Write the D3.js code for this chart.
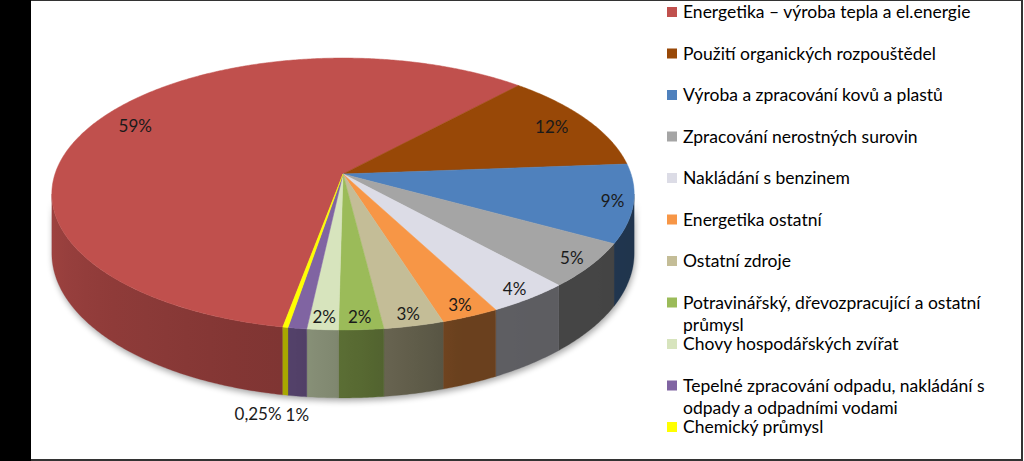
<!DOCTYPE html>
<html>
<head>
<meta charset="utf-8">
<script src="https://cdn.jsdelivr.net/npm/d3@7"></script>
<style>
  html, body { margin: 0; padding: 0; background: #fff; }
  svg { display: block; font-family: Lato, "Noto Sans", sans-serif; }
</style>
</head>
<body>
<svg id="chart" width="1024" height="461"></svg>
<script>
// data (labels are the rounded values shown on the slices)
const categories = [
  "Energetika – výroba tepla a el.energie",
  "Použití organických rozpouštědel",
  "Výroba a zpracování kovů a plastů",
  "Zpracování nerostných surovin",
  "Nakládání s benzinem",
  "Energetika ostatní",
  "Ostatní zdroje",
  "Potravinářský, dřevozpracující a ostatní průmysl",
  "Chovy hospodářských zvířat",
  "Tepelné zpracování odpadu, nakládání s odpady a odpadními vodami",
  "Chemický průmysl"
];
const values = [59, 12, 9.3, 5.3, 4.0, 2.8, 2.9, 2.15, 1.5, 0.9, 0.25];
const valueLabels = ["59%", "12%", "9%", "5%", "4%", "3%", "3%", "2%", "2%", "1%", "0,25%"];

const colors = ["#c0504d", "#984807", "#4f81bd", "#a5a5a5", "#dcdce6", "#f79646",
                "#c4bd97", "#9bbb59", "#d7e4bd", "#8064a2", "#ffff00"];

const svg = d3.select("#chart");
const defs = svg.append("defs");
const deg = Math.PI / 180;

// frame
svg.append("rect").attr("x", 0).attr("y", 0).attr("width", 31).attr("height", 461).attr("fill", "#000");
svg.append("rect").attr("x", 31).attr("y", 0).attr("width", 992).attr("height", 1).attr("fill", "#333");
svg.append("rect").attr("x", 1021).attr("y", 0).attr("width", 2).attr("height", 461).attr("fill", "#333");
svg.append("rect").attr("x", 31).attr("y", 459).attr("width", 992).attr("height", 2).attr("fill", "#333");

// 3d pie projection (perspective tilt)
const cx = 343, cy = 174, A = 288, B = 133, K = 0.147, T = 58;
function proj(theta, r, bottom) {
  const u = r * Math.sin(theta), v = -r * Math.cos(theta);
  const w = 1 - K * v;
  return [cx + A * u / w, cy + B * v / w + (bottom ? T / w : 0)];
}

const startAngle = 190.3 * deg;
const pie = d3.pie().sort(null).startAngle(startAngle).endAngle(startAngle + 2 * Math.PI);
const arcs = pie(values);
const total = d3.sum(values);

const visL = Math.acos(-K), visR = 2 * Math.PI - Math.acos(-K);
const shade = d3.scaleLinear().domain([90, 160, 190, 225, 270]).range([0.4, 0.43, 0.66, 0.74, 0.85]).clamp(true);
function darker(c, f) {
  const r = d3.rgb(c);
  return d3.rgb(r.r * f, r.g * f, r.b * f).formatHex();
}
const line = d3.line();

// shadow under the pie
defs.append("filter").attr("id", "blur").attr("x", "-10%").attr("y", "-10%").attr("width", "120%").attr("height", "130%")
  .append("feGaussianBlur").attr("stdDeviation", 3);
const shadowPts = [];
for (let t = visL; t <= visR; t += deg) shadowPts.push(proj(t, 1, true));
for (let t = visR; t >= visL; t -= deg) shadowPts.push(proj(t, 1, false));
svg.append("path").attr("d", line(shadowPts) + "Z").attr("transform", "translate(1,3)")
  .attr("fill", "#000").attr("opacity", 0.35).attr("filter", "url(#blur)");

// side walls, shaded with a gradient along the rim
const sides = svg.append("g");
let gid = 0;
arcs.forEach((a, i) => {
  [0, 2 * Math.PI].forEach(off => {
    const s = Math.max(a.startAngle, visL + off), e = Math.min(a.endAngle, visR + off);
    if (e <= s) return;
    const n = Math.max(2, Math.ceil((e - s) / (0.5 * deg)));
    const ts = d3.range(n + 1).map(j => s + (e - s) * j / n);
    const top = ts.map(t => proj(t, 1, false));
    const bot = ts.map(t => proj(t, 1, true)).reverse();
    const x1 = top[0][0], x2 = top[top.length - 1][0];
    const id = "side" + (gid++);
    const g = defs.append("linearGradient").attr("id", id).attr("gradientUnits", "userSpaceOnUse")
      .attr("x1", x1).attr("y1", 0).attr("x2", x2).attr("y2", 0);
    d3.range(0, 1.0001, 0.125).forEach(f => {
      const t = s + (e - s) * f;
      const x = proj(t, 1, false)[0];
      const d = ((t / deg) % 360 + 360) % 360;
      g.append("stop").attr("offset", Math.abs(x2 - x1) < 0.01 ? f : (x - x1) / (x2 - x1))
        .attr("stop-color", darker(colors[i], shade(d)));
    });
    sides.append("path").attr("d", line(top.concat(bot)) + "Z")
      .attr("fill", `url(#${id})`).attr("stroke", darker(colors[i], shade(((s + e) / 2 / deg) % 360)))
      .attr("stroke-width", 0.3);
  });
});

// top faces
svg.append("g").selectAll("path").data(arcs).join("path")
  .attr("d", a => {
    const pts = [proj(0, 0, false)];
    const n = Math.max(2, Math.ceil((a.endAngle - a.startAngle) / (0.5 * deg)));
    for (let j = 0; j <= n; j++) pts.push(proj(a.startAngle + (a.endAngle - a.startAngle) * j / n, 1, false));
    return line(pts) + "Z";
  })
  .attr("fill", (a, i) => colors[i])
  .attr("stroke", (a, i) => colors[i]).attr("stroke-width", 0.5);

// slice labels
const labelG = svg.append("g").attr("font-size", 17).attr("fill", "#1a1a1a");
const outside = [];
arcs.forEach((a, i) => {
  const mid = (a.startAngle + a.endAngle) / 2;
  const share = a.value / total;
  if (share > 0.012) {
    const p = proj(mid, share > 0.1 ? 0.85 : 0.93, false);
    labelG.append("text").attr("x", p[0]).attr("y", p[1]).attr("dy", "0.35em")
      .attr("text-anchor", "middle").text(valueLabels[i]);
  } else {
    const p = proj(mid, 1, true);
    outside.push({ x: p[0], y: p[1] + 19, label: valueLabels[i] });
  }
});
outside.sort((a, b) => b.x - a.x);
let prevLeft = Infinity;
outside.forEach((o, j) => {
  const t = labelG.append("text").attr("y", o.y).attr("dy", "0.35em").text(o.label);
  const w = t.node().getComputedTextLength();
  if (j === 0) {
    t.attr("x", o.x).attr("text-anchor", "middle");
    prevLeft = o.x - w / 2;
  } else {
    const x = Math.min(o.x, prevLeft - 4);
    t.attr("x", x).attr("text-anchor", "end");
    prevLeft = x - w;
  }
});

// legend
const legend = svg.append("g").attr("font-size", 17.5).attr("fill", "#000");
const legX = 667, legY = 12, legStep = 41.5, wrapW = 322, lineH = 22.5;
categories.forEach((name, i) => {
  const y = legY + i * legStep;
  legend.append("rect").attr("x", legX).attr("y", y - 5).attr("width", 10).attr("height", 10).attr("fill", colors[i]);
  const text = legend.append("text").attr("x", legX + 16).attr("y", y);
  const words = name.split(" ");
  let cur = [];
  let tspan = text.append("tspan").attr("x", legX + 16).attr("dy", "0.35em");
  words.forEach(wd => {
    cur.push(wd);
    tspan.text(cur.join(" "));
    if (tspan.node().getComputedTextLength() > wrapW && cur.length > 1) {
      cur.pop();
      tspan.text(cur.join(" "));
      cur = [wd];
      tspan = text.append("tspan").attr("x", legX + 16).attr("dy", lineH).text(wd);
    }
  });
});
</script>
</body>
</html>
